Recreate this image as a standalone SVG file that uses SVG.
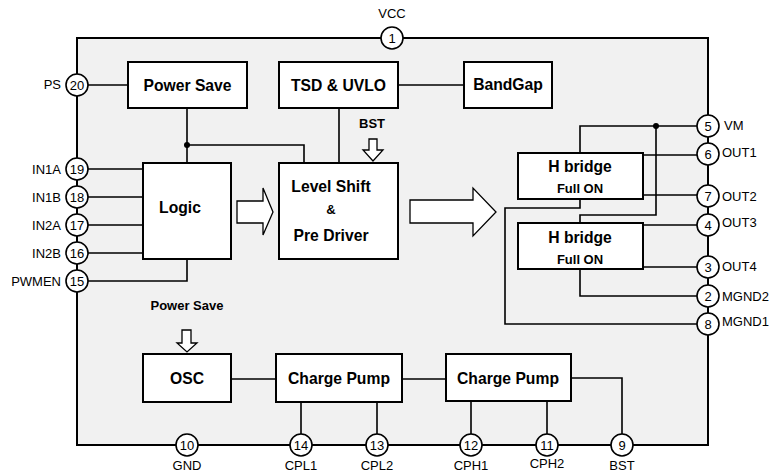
<svg xmlns="http://www.w3.org/2000/svg" width="772" height="472" viewBox="0 0 772 472">
<style>
.frame{fill:#f1f1f1;stroke:#000;stroke-width:2}
.box{fill:#fff;stroke:#000;stroke-width:2}
.wire{fill:none;stroke:#000;stroke-width:1.6}
.pin{fill:#fff;stroke:#000;stroke-width:1.6}
.arr{fill:#fff;stroke:#000;stroke-width:1.3;stroke-linejoin:miter}
.dot{fill:#000}
text{font-family:"Liberation Sans",Arial,sans-serif;fill:#000}
.bl{font-size:15.7px;font-weight:bold;text-anchor:middle}
.bs{font-size:13px;font-weight:bold;text-anchor:middle}
.pn{font-size:13px;text-anchor:middle}
.lbl{font-size:13px}
.lr{font-size:13px;text-anchor:end}
.lc{font-size:13px;text-anchor:middle}
</style>
<rect class="frame" x="77" y="38" width="631" height="407"/>
<g id="connectors">
<path class="wire" d="M88 85H128"/>
<path class="wire" d="M398 85H464"/>
<path class="wire" d="M187 108V163"/>
<path class="wire" d="M187 145H304V163"/>
<path class="wire" d="M339 108V163"/>
<path class="wire" d="M88 169H143M88 197H143M88 225H143M88 253H143"/>
<path class="wire" d="M88 281H187V259"/>
<path class="wire" d="M697 126H580V153"/>
<path class="wire" d="M656 126V215H580V223"/>
<path class="wire" d="M643 155H697"/>
<path class="wire" d="M643 195H697"/>
<path class="wire" d="M643 225H697"/>
<path class="wire" d="M643 267H697"/>
<path class="wire" d="M580 269V296H697"/>
<path class="wire" d="M580 199V208H505V324H697"/>
<path class="wire" d="M231 379H276"/>
<path class="wire" d="M402 379H446"/>
<path class="wire" d="M571 378H622V434"/>
<path class="wire" d="M301 402V434M377 402V434M471 401V434M547 401V434"/>
<circle class="dot" cx="187" cy="145" r="3"/>
<circle class="dot" cx="656" cy="126" r="3"/>
<path class="arr" d="M369 139H377V150H383L373 161L363 150H369Z"/>
<path class="arr" d="M182 330H191V343H197L187 352L177 343H182Z"/>
<path class="arr" d="M237 201H263V188L273 212L263 235V223H237Z"/>
<path class="arr" d="M410 200H473V188L496 212L473 236V223H410Z"/>
</g>
<g id="power-save"><rect class="box" x="128" y="62" width="119" height="46"/><text class="bl" x="187.5" y="91">Power Save</text></g>
<g id="tsd-uvlo"><rect class="box" x="279" y="62" width="119" height="46"/><text class="bl" x="338.5" y="91">TSD &amp; UVLO</text></g>
<g id="bandgap"><rect class="box" x="464" y="62" width="88" height="46"/><text class="bl" x="508" y="90">BandGap</text></g>
<g id="logic"><rect class="box" x="143" y="163" width="88" height="96"/><text class="bl" x="180" y="213">Logic</text></g>
<g id="level-shift"><rect class="box" x="279" y="163" width="119" height="96"/><text class="bl" x="331" y="192">Level Shift</text><text class="bs" x="331" y="214">&amp;</text><text class="bl" x="331" y="241">Pre Driver</text></g>
<g id="hbridge1"><rect class="box" x="518" y="153" width="125" height="46"/><text class="bl" x="580" y="172">H bridge</text><text class="bs" x="580" y="193">Full ON</text></g>
<g id="hbridge2"><rect class="box" x="518" y="223" width="125" height="46"/><text class="bl" x="580" y="243">H bridge</text><text class="bs" x="580" y="264">Full ON</text></g>
<g id="osc"><rect class="box" x="143" y="354" width="88" height="48"/><text class="bl" x="187" y="384">OSC</text></g>
<g id="charge-pump1"><rect class="box" x="276" y="354" width="126" height="48"/><text class="bl" x="339" y="384">Charge Pump</text></g>
<g id="charge-pump2"><rect class="box" x="446" y="354" width="125" height="47"/><text class="bl" x="508" y="384">Charge Pump</text></g>
<g id="labels"><text class="bs" x="372" y="128">BST</text><text class="bs" x="187" y="310">Power Save</text></g>
<g id="pin1"><circle class="pin" cx="392" cy="38" r="11"/><text class="pn" x="392" y="42.5">1</text><text class="lc" x="392" y="18">VCC</text></g>
<g id="pin20"><circle class="pin" cx="77" cy="85" r="11"/><text class="pn" x="77" y="89.5">20</text><text class="lr" x="61" y="89">PS</text></g>
<g id="pin19"><circle class="pin" cx="77" cy="169" r="11"/><text class="pn" x="77" y="173.5">19</text><text class="lr" x="61" y="174">IN1A</text></g>
<g id="pin18"><circle class="pin" cx="77" cy="197" r="11"/><text class="pn" x="77" y="201.5">18</text><text class="lr" x="61" y="202">IN1B</text></g>
<g id="pin17"><circle class="pin" cx="77" cy="225" r="11"/><text class="pn" x="77" y="229.5">17</text><text class="lr" x="61" y="230">IN2A</text></g>
<g id="pin16"><circle class="pin" cx="77" cy="253" r="11"/><text class="pn" x="77" y="257.5">16</text><text class="lr" x="61" y="258">IN2B</text></g>
<g id="pin15"><circle class="pin" cx="77" cy="281" r="11"/><text class="pn" x="77" y="285.5">15</text><text class="lr" x="61" y="286">PWMEN</text></g>
<g id="pin5"><circle class="pin" cx="708" cy="126" r="11"/><text class="pn" x="708" y="130.5">5</text><text class="lbl" x="724" y="130">VM</text></g>
<g id="pin6"><circle class="pin" cx="708" cy="154" r="11"/><text class="pn" x="708" y="158.5">6</text><text class="lbl" x="722" y="157">OUT1</text></g>
<g id="pin7"><circle class="pin" cx="708" cy="196" r="11"/><text class="pn" x="708" y="200.5">7</text><text class="lbl" x="722" y="201">OUT2</text></g>
<g id="pin4"><circle class="pin" cx="708" cy="225" r="11"/><text class="pn" x="708" y="229.5">4</text><text class="lbl" x="722" y="227">OUT3</text></g>
<g id="pin3"><circle class="pin" cx="708" cy="267" r="11"/><text class="pn" x="708" y="271.5">3</text><text class="lbl" x="722" y="271">OUT4</text></g>
<g id="pin2"><circle class="pin" cx="708" cy="296" r="11"/><text class="pn" x="708" y="300.5">2</text><text class="lbl" x="722" y="301">MGND2</text></g>
<g id="pin8"><circle class="pin" cx="708" cy="324" r="11"/><text class="pn" x="708" y="328.5">8</text><text class="lbl" x="722" y="326">MGND1</text></g>
<g id="pin10"><circle class="pin" cx="187" cy="445" r="11"/><text class="pn" x="187" y="449.5">10</text><text class="lc" x="187" y="470">GND</text></g>
<g id="pin14"><circle class="pin" cx="301" cy="445" r="11"/><text class="pn" x="301" y="449.5">14</text><text class="lc" x="301" y="470">CPL1</text></g>
<g id="pin13"><circle class="pin" cx="377" cy="445" r="11"/><text class="pn" x="377" y="449.5">13</text><text class="lc" x="377" y="470">CPL2</text></g>
<g id="pin12"><circle class="pin" cx="471" cy="445" r="11"/><text class="pn" x="471" y="449.5">12</text><text class="lc" x="471" y="470">CPH1</text></g>
<g id="pin11"><circle class="pin" cx="547" cy="445" r="11"/><text class="pn" x="547" y="449.5">11</text><text class="lc" x="547" y="468">CPH2</text></g>
<g id="pin9"><circle class="pin" cx="622" cy="445" r="11"/><text class="pn" x="622" y="449.5">9</text><text class="lc" x="622" y="470">BST</text></g>
</svg>
